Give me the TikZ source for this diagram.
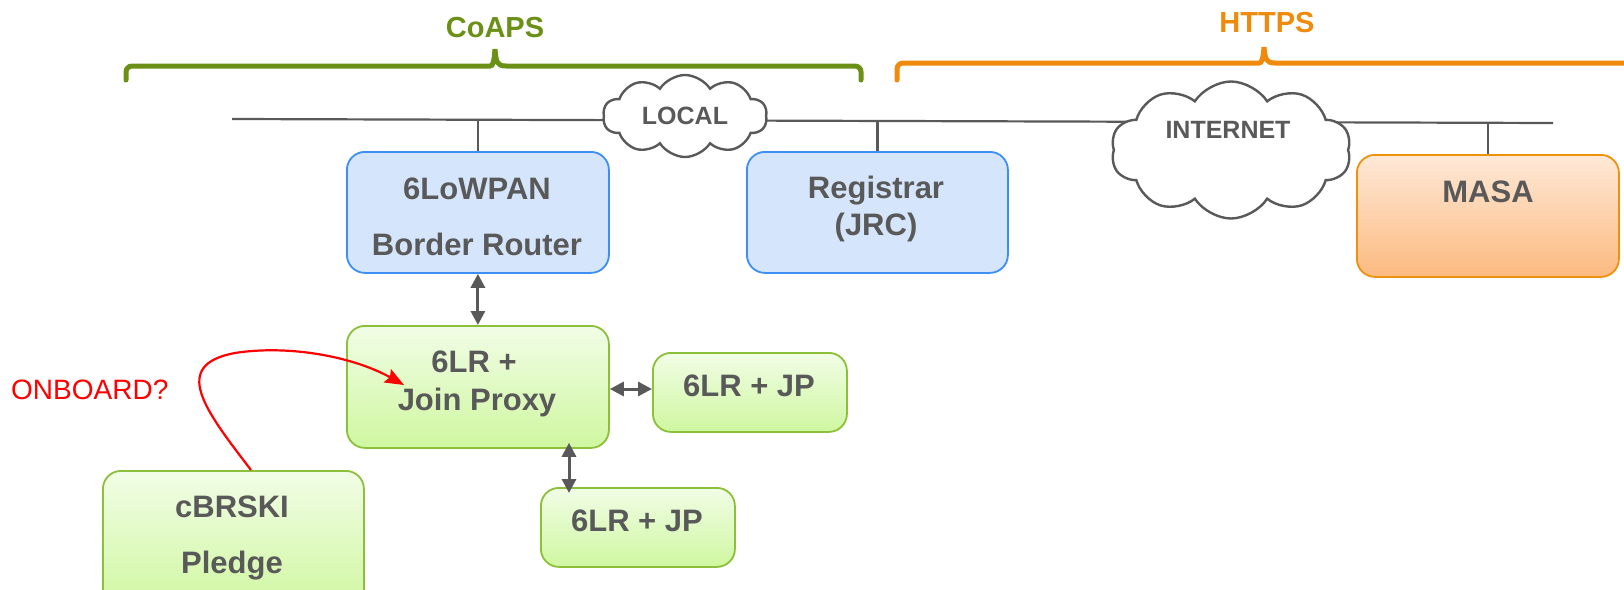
\documentclass[tikz,border=0pt]{standalone}
\usepackage{fontspec}
\setmainfont{Liberation Sans}
\usetikzlibrary{shapes.symbols,arrows.meta}
\definecolor{txtgray}{HTML}{595959}
\definecolor{bluefill}{HTML}{D5E6FC}
\definecolor{blueline}{HTML}{3D8EF5}
\definecolor{greentop}{HTML}{F1FDE6}
\definecolor{greenbot}{HTML}{CFF7A0}
\definecolor{greenline}{HTML}{8DC03A}
\definecolor{orangetop}{HTML}{FEE9D7}
\definecolor{orangebot}{HTML}{FCBA80}
\definecolor{orangeline}{HTML}{F0900F}
\definecolor{coapsgreen}{HTML}{6B9016}
\definecolor{httpsorange}{HTML}{F08A0A}
\begin{document}
\begin{tikzpicture}[x=1pt,y=-1pt,
  box/.style={draw,line width=1.8pt,rounded corners=18pt,anchor=north west,inner sep=0pt},
  bluebox/.style={box,draw=blueline,fill=bluefill},
  greenbox/.style={box,draw=greenline,top color=greentop,bottom color=greenbot},
  orangebox/.style={box,draw=orangeline,top color=orangetop,bottom color=orangebot},
  txt/.style={font=\bfseries\fontsize{31}{37}\selectfont,text=txtgray,anchor=base,inner sep=0pt},
  cloudtxt/.style={font=\bfseries\fontsize{25}{30}\selectfont,text=txtgray,anchor=base,inner sep=0pt},
  cloudnode/.style={cloud,cloud puffs=10,cloud puff arc=115,cloud ignores aspect,draw=txtgray,line width=2.4pt,fill=white,inner sep=0pt},
  net/.style={draw=txtgray,line width=2.2pt},
  link/.style={draw=txtgray,line width=3pt,{Triangle[length=14pt,width=14pt]}-{Triangle[length=14pt,width=14pt]}},
  bracestyle/.style={line width=5pt,line cap=round}
]
\useasboundingbox (0,0) rectangle (1624,589);
\clip (0,0) rectangle (1624,589);

% braces
\draw[bracestyle,draw=coapsgreen] (126,80) [rounded corners=6pt] -- (126,66) -- (484,66) [sharp corners]
  .. controls (493,66) and (494,62) .. (495,49) .. controls (496,62) and (497,66) .. (506,66)
  [rounded corners=6pt] -- (861,66) -- (861,80);
\draw[bracestyle,draw=httpsorange] (897,80) [rounded corners=6pt] -- (897,63) -- (1253,63) [sharp corners]
  .. controls (1262,63) and (1263,59) .. (1264,47) .. controls (1265,59) and (1266,63) .. (1275,63)
  -- (1640,63);
\node[font=\bfseries\fontsize{29}{34}\selectfont,text=coapsgreen,anchor=base,inner sep=0pt] (coaps) at (495,37) {CoAPS};
\node[font=\bfseries\fontsize{29}{34}\selectfont,text=httpsorange,anchor=base,inner sep=0pt] (https) at (1267,32) {HTTPS};

% network line
\coordinate (netL) at (232,119);
\coordinate (netR) at (1553,123);
\draw[net] (netL) -- (netR);

% boxes
\node[bluebox,minimum width=262pt,minimum height=121pt] (br) at (346,151) {};
\node[bluebox,minimum width=261pt,minimum height=121pt] (reg) at (746,151) {};
\node[orangebox,minimum width=262pt,minimum height=122pt] (masa) at (1356,154) {};
\node[greenbox,minimum width=262pt,minimum height=122pt] (jp) at (346,325) {};
\node[greenbox,minimum width=194pt,minimum height=79pt] (jpr) at (652,352) {};
\node[greenbox,minimum width=194pt,minimum height=79pt] (jpb) at (540,487) {};
\node[greenbox,minimum width=261pt,minimum height=140pt] (pledge) at (102,470) {};

% stems
\draw[net] (br.north) -- (br.north |- 0,120);
\draw[net] (reg.north) -- (reg.north |- 0,121);
\draw[net] (masa.north) -- (masa.north |- 0,123);

% clouds
\node[cloudnode,cloud puffs=10,minimum width=164pt,minimum height=82pt] (local) at (685,116) {};
\node[cloudnode,cloud puffs=10,minimum width=240pt,minimum height=137pt] (inet) at (1231,150) {};
\node[cloudtxt] (localt) at (685,124) {LOCAL};
\node[cloudtxt] (inett) at (1228,138) {INTERNET};

% texts
\node[txt] (brt1) at (477,199) {6LoWPAN};
\node[txt] (brt2) at (477,255) {Border Router};
\node[txt] (regt1) at (876,198) {Registrar};
\node[txt] (regt2) at (876,235) {(JRC)};
\node[txt] (masat) at (1488,202) {MASA};
\node[txt] (jpt1) at (474,372) {6LR +};
\node[txt] (jpt2) at (477,410) {Join Proxy};
\node[txt] (jprt) at (749,396) {6LR + JP};
\node[txt] (jpbt) at (637,531) {6LR + JP};
\node[txt] (plt1) at (232,517) {cBRSKI};
\node[txt] (plt2) at (232,573) {Pledge};
\node[font=\fontsize{28}{33}\selectfont,text=red,anchor=base west,inner sep=0pt] (onb) at (11,399) {ONBOARD?};

% links
\draw[link] (br.south) -- (jp.north);
\draw[link] (jp.east |- 0,389) -- (jpr.west |- 0,389);
\draw[link,shorten <=-6pt,shorten >=-6pt] (jp.south -| 569,0) -- (jpb.north -| 569,0);

% onboard arrow
\coordinate (onbS) at (251,470);
\coordinate (onbE) at (404,385);
\draw[red,line width=2.2pt,-{Stealth[length=19pt,width=15pt,inset=3pt]}] (onbS)
  .. controls (205,410) and (170,365) .. (235,353)
  .. controls (285,345) and (350,355) .. (onbE);
\end{tikzpicture}
\end{document}
